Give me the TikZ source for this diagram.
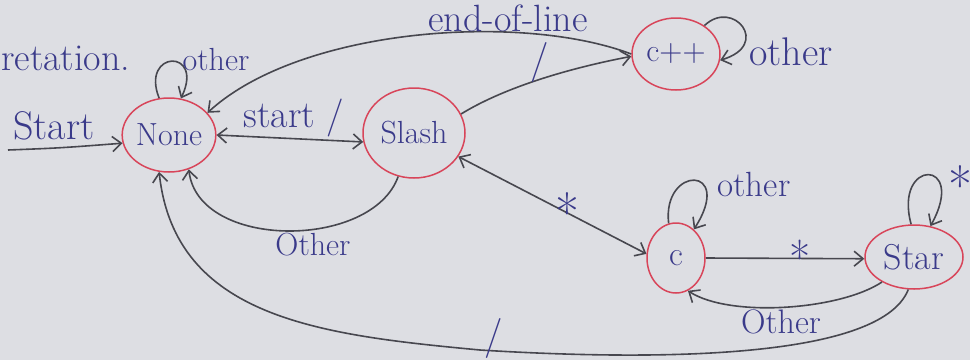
\documentclass[tikz,border=0pt]{standalone}
\usetikzlibrary{arrows.meta,shapes.geometric}
\definecolor{paper}{HTML}{DDDEE3}
\definecolor{ink}{HTML}{47474F}
\definecolor{pen}{HTML}{3A3A8A}
\definecolor{redpen}{HTML}{D8455A}
\newcommand{\fsz}[1]{\fontsize{#1}{#1}\selectfont}
\begin{document}
\begin{tikzpicture}[x=1pt,y=-1pt,
  state/.style={ellipse,draw=redpen,line width=1.5pt,text=pen,inner sep=0pt,
    font=\fsz{30}},
  arr/.style={draw=ink,line width=1.6pt,-{Straight Barb[length=9pt,width=15pt]}},
  darr/.style={draw=ink,line width=1.6pt,{Straight Barb[length=9pt,width=15pt]}-{Straight Barb[length=9pt,width=15pt]}},
  lbl/.style={text=pen,font=\fsz{30},inner sep=1pt},
  astlbl/.style={text=pen,font=\fsz{52},inner sep=0pt,yshift=-9pt}]
% paper
\fill[paper] (0,0) rectangle (970,360);
\useasboundingbox (0,0) rectangle (970,360);

% words left over from the notes above the diagram
\node[lbl,anchor=west,font=\fsz{38}] (note) at (0,58) {retation.};

% states
\node[state,minimum width=82pt,minimum height=74pt,font=\fsz{32}] (None) at (169,135) {None};
\node[state,minimum width=102pt,minimum height=90pt,font=\fsz{32}] (Slash) at (414,133) {Slash};
\node[state,minimum width=88pt,minimum height=72pt,font=\fsz{32}] (Cpp) at (676,54) {c++};
\node[state,minimum width=58pt,minimum height=70pt,font=\fsz{34}] (C) at (676,258) {c};
\node[state,minimum width=98pt,minimum height=64pt,font=\fsz{36}] (Star) at (914,257) {Star};

% entry
\coordinate (s0) at (8,150);
\draw[arr] (s0) .. controls (60,148) .. (None.190);
\node[lbl,font=\fsz{40}] (lstart) at (54,126) {Start};

% None loop
\draw[arr] (None.105) .. controls (140,50) and (205,48) .. (None.72);
\node[lbl,font=\fsz{32}] (lnone) at (216,60) {other};

% None <-> Slash
\draw[darr] (None.east) -- (Slash.190);
\node[lbl,font=\fsz{38}] (ls) at (294,118) {start /};

% Slash -> None
\draw[arr] (Slash.250) .. controls (372,250) and (198,250) .. (None.300);
\node[lbl,font=\fsz{32}] (lso) at (313,245) {Other};

% end-of-line: c++ -> None
\draw[arr] (Cpp.180) .. controls (520,12) and (300,28) .. (None.30);
\node[lbl,font=\fsz{38}] (leol) at (508,18) {end-of-line};

% Slash -> c++
\draw[arr] (Slash.22) .. controls (500,90) and (560,70) .. (Cpp.183);
\node[lbl,font=\fsz{40}] (lsl) at (540,62) {/};

% c++ loop
\draw[arr] (Cpp.45) .. controls (733,-2) and (772,45) .. (Cpp.-8);
\node[lbl,font=\fsz{40}] (lcpp) at (791,52) {other};

% Slash <-> c
\draw[darr] (Slash.-28) -- (C.172);
\node[astlbl] (lsc) at (567,203) {*};

% c loop
\draw[arr] (C.102) .. controls (662,165) and (735,165) .. (C.58);
\node[lbl,font=\fsz{35}] (lc) at (754,184) {other};

% c -> Star
\draw[arr] (C.east) -- (Star.182);
\node[astlbl,font=\fsz{46}] (lcs) at (800,248) {*};

% Star -> c
\draw[arr] (Star.218) .. controls (840,310) and (730,318) .. (C.-70);
\node[lbl,font=\fsz{34}] (lsc2) at (781,322) {Other};

% Star loop
\draw[arr] (Star.95) .. controls (893,158) and (968,158) .. (Star.62);
\node[astlbl] (lst) at (960,176) {*};

% Star -> None
\draw[arr] (Star.-100) .. controls (880,362) and (640,360) .. (480,350)
  .. controls (320,335) and (175,318) .. (None.255);
\node[lbl,font=\fsz{40}] (lsn) at (494,338) {/};
\end{tikzpicture}
\end{document}
